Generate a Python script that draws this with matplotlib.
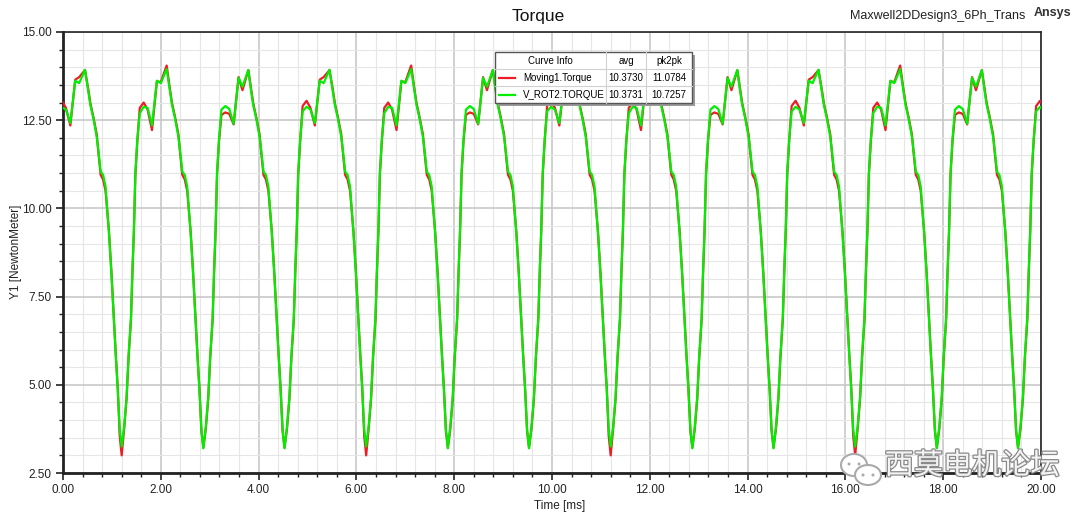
import matplotlib
matplotlib.use("Agg")
import matplotlib.pyplot as plt
from matplotlib.ticker import MultipleLocator, FormatStrFormatter
from matplotlib.patches import Rectangle, Ellipse
import matplotlib.patheffects as pe

plt.rcParams['font.family'] = ['Liberation Sans', 'DejaVu Sans']

# ---------------- data ----------------
time_ms = [
    0.00, 0.06, 0.15, 0.25, 0.33, 0.45,
    0.52, 0.56, 0.62, 0.69, 0.73, 0.77, 0.82, 0.87, 0.94, 0.99, 1.04, 1.08, 1.12, 1.16,
    1.20, 1.25, 1.30, 1.34, 1.39, 1.42, 1.45, 1.48, 1.52, 1.57, 1.65, 1.73, 1.82, 1.92, 2.00, 2.12,
    2.19, 2.23, 2.29, 2.36, 2.40, 2.44, 2.49, 2.54, 2.61, 2.66, 2.71, 2.75, 2.79, 2.83,
    2.87, 2.92, 2.97, 3.01, 3.06, 3.09, 3.12, 3.15, 3.19, 3.24, 3.32, 3.40, 3.49, 3.59, 3.67, 3.79,
    3.85, 3.89, 3.95, 4.02, 4.06, 4.10, 4.15, 4.20, 4.27, 4.32, 4.37, 4.41, 4.45, 4.49,
    4.53, 4.58, 4.63, 4.67, 4.72, 4.75, 4.78, 4.81, 4.85, 4.90, 4.98, 5.06, 5.15, 5.25, 5.33, 5.45,
    5.52, 5.56, 5.62, 5.69, 5.73, 5.77, 5.82, 5.87, 5.94, 5.99, 6.04, 6.08, 6.12, 6.16,
    6.20, 6.25, 6.30, 6.34, 6.39, 6.42, 6.45, 6.48, 6.52, 6.57, 6.65, 6.73, 6.82, 6.92, 7.00, 7.12,
    7.19, 7.23, 7.29, 7.36, 7.40, 7.44, 7.49, 7.54, 7.61, 7.66, 7.71, 7.75, 7.79, 7.83,
    7.87, 7.92, 7.97, 8.01, 8.06, 8.09, 8.12, 8.15, 8.19, 8.24, 8.32, 8.40, 8.49, 8.59, 8.67, 8.79,
    8.85, 8.89, 8.95, 9.02, 9.06, 9.10, 9.15, 9.20, 9.27, 9.32, 9.37, 9.41, 9.45, 9.49,
    9.53, 9.58, 9.63, 9.67, 9.72, 9.75, 9.78, 9.81, 9.85, 9.90, 9.98, 10.06, 10.15, 10.25, 10.33, 10.45,
    10.52, 10.56, 10.62, 10.69, 10.73, 10.77, 10.82, 10.87, 10.94, 10.99, 11.04, 11.08, 11.12, 11.16,
    11.20, 11.25, 11.30, 11.34, 11.39, 11.42, 11.45, 11.48, 11.52, 11.57, 11.65, 11.73, 11.82, 11.92, 12.00, 12.12,
    12.19, 12.23, 12.29, 12.36, 12.40, 12.44, 12.49, 12.54, 12.61, 12.66, 12.71, 12.75, 12.79, 12.83,
    12.87, 12.92, 12.97, 13.01, 13.06, 13.09, 13.12, 13.15, 13.19, 13.24, 13.32, 13.40, 13.49, 13.59, 13.67, 13.79,
    13.85, 13.89, 13.95, 14.02, 14.06, 14.10, 14.15, 14.20, 14.27, 14.32, 14.37, 14.41, 14.45, 14.49,
    14.53, 14.58, 14.63, 14.67, 14.72, 14.75, 14.78, 14.81, 14.85, 14.90, 14.98, 15.06, 15.15, 15.25, 15.33, 15.45,
    15.52, 15.56, 15.62, 15.69, 15.73, 15.77, 15.82, 15.87, 15.94, 15.99, 16.04, 16.08, 16.12, 16.16,
    16.20, 16.25, 16.30, 16.34, 16.39, 16.42, 16.45, 16.48, 16.52, 16.57, 16.65, 16.73, 16.82, 16.92, 17.00, 17.12,
    17.19, 17.23, 17.29, 17.36, 17.40, 17.44, 17.49, 17.54, 17.61, 17.66, 17.71, 17.75, 17.79, 17.83,
    17.87, 17.92, 17.97, 18.01, 18.06, 18.09, 18.12, 18.15, 18.19, 18.24, 18.32, 18.40, 18.49, 18.59, 18.67, 18.79,
    18.85, 18.89, 18.95, 19.02, 19.06, 19.10, 19.15, 19.20, 19.27, 19.32, 19.37, 19.41, 19.45, 19.49,
    19.53, 19.58, 19.63, 19.67, 19.72, 19.75, 19.78, 19.81, 19.85, 19.90, 19.98, 20.00,
]

moving1_torque = [
    13.00, 12.85, 12.35, 13.65, 13.72, 13.92,
    13.35, 12.98, 12.60, 12.10, 11.50, 10.95, 10.82, 10.50, 9.35, 8.20, 6.90, 5.85, 4.90, 3.55,
    3.00, 3.75, 4.60, 5.75, 6.85, 8.20, 9.35, 10.95, 11.90, 12.85, 13.00, 12.80, 12.22, 13.60, 13.58, 14.05,
    13.35, 12.98, 12.60, 12.10, 11.50, 10.95, 10.82, 10.50, 9.35, 8.20, 6.90, 5.85, 4.90, 3.70,
    3.22, 3.75, 4.60, 5.75, 6.85, 8.20, 9.35, 10.95, 11.90, 12.65, 12.72, 12.68, 12.38, 13.72, 13.35, 13.92,
    13.35, 12.98, 12.60, 12.10, 11.50, 10.95, 10.82, 10.50, 9.35, 8.20, 6.90, 5.85, 4.90, 3.70,
    3.22, 3.75, 4.60, 5.75, 6.85, 8.20, 9.35, 10.95, 11.90, 12.90, 13.05, 12.85, 12.35, 13.65, 13.72, 13.92,
    13.35, 12.98, 12.60, 12.10, 11.50, 10.95, 10.82, 10.50, 9.35, 8.20, 6.90, 5.85, 4.90, 3.55,
    3.00, 3.75, 4.60, 5.75, 6.85, 8.20, 9.35, 10.95, 11.90, 12.85, 13.00, 12.80, 12.22, 13.60, 13.58, 14.05,
    13.35, 12.98, 12.60, 12.10, 11.50, 10.95, 10.82, 10.50, 9.35, 8.20, 6.90, 5.85, 4.90, 3.70,
    3.22, 3.75, 4.60, 5.75, 6.85, 8.20, 9.35, 10.95, 11.90, 12.65, 12.72, 12.68, 12.38, 13.72, 13.35, 13.92,
    13.35, 12.98, 12.60, 12.10, 11.50, 10.95, 10.82, 10.50, 9.35, 8.20, 6.90, 5.85, 4.90, 3.70,
    3.22, 3.75, 4.60, 5.75, 6.85, 8.20, 9.35, 10.95, 11.90, 12.90, 13.05, 12.85, 12.35, 13.65, 13.72, 13.92,
    13.35, 12.98, 12.60, 12.10, 11.50, 10.95, 10.82, 10.50, 9.35, 8.20, 6.90, 5.85, 4.90, 3.55,
    3.00, 3.75, 4.60, 5.75, 6.85, 8.20, 9.35, 10.95, 11.90, 12.85, 13.00, 12.80, 12.22, 13.60, 13.58, 14.05,
    13.35, 12.98, 12.60, 12.10, 11.50, 10.95, 10.82, 10.50, 9.35, 8.20, 6.90, 5.85, 4.90, 3.70,
    3.22, 3.75, 4.60, 5.75, 6.85, 8.20, 9.35, 10.95, 11.90, 12.65, 12.72, 12.68, 12.38, 13.72, 13.35, 13.92,
    13.35, 12.98, 12.60, 12.10, 11.50, 10.95, 10.82, 10.50, 9.35, 8.20, 6.90, 5.85, 4.90, 3.70,
    3.22, 3.75, 4.60, 5.75, 6.85, 8.20, 9.35, 10.95, 11.90, 12.90, 13.05, 12.85, 12.35, 13.65, 13.72, 13.92,
    13.35, 12.98, 12.60, 12.10, 11.50, 10.95, 10.82, 10.50, 9.35, 8.20, 6.90, 5.85, 4.90, 3.55,
    3.00, 3.75, 4.60, 5.75, 6.85, 8.20, 9.35, 10.95, 11.90, 12.85, 13.00, 12.80, 12.22, 13.60, 13.58, 14.05,
    13.35, 12.98, 12.60, 12.10, 11.50, 10.95, 10.82, 10.50, 9.35, 8.20, 6.90, 5.85, 4.90, 3.70,
    3.22, 3.75, 4.60, 5.75, 6.85, 8.20, 9.35, 10.95, 11.90, 12.65, 12.72, 12.68, 12.38, 13.72, 13.35, 13.92,
    13.35, 12.98, 12.60, 12.10, 11.50, 10.95, 10.82, 10.50, 9.35, 8.20, 6.90, 5.85, 4.90, 3.70,
    3.22, 3.75, 4.60, 5.75, 6.85, 8.20, 9.35, 10.95, 11.90, 12.90, 13.05, 13.02,
]

v_rot2_torque = [
    12.85, 12.80, 12.42, 13.62, 13.55, 13.93,
    13.30, 12.93, 12.56, 12.03, 11.56, 11.04, 10.95, 10.62, 9.30, 8.16, 6.84, 5.80, 4.86, 3.73,
    3.25, 3.80, 4.65, 5.80, 6.90, 8.25, 9.40, 11.00, 11.95, 12.70, 12.88, 12.85, 12.35, 13.62, 13.55, 13.95,
    13.30, 12.93, 12.56, 12.03, 11.56, 11.04, 10.95, 10.62, 9.30, 8.16, 6.84, 5.80, 4.86, 3.73,
    3.20, 3.80, 4.65, 5.80, 6.90, 8.25, 9.40, 11.00, 11.95, 12.80, 12.90, 12.82, 12.40, 13.70, 13.45, 13.92,
    13.30, 12.93, 12.56, 12.03, 11.56, 11.04, 10.95, 10.62, 9.30, 8.16, 6.84, 5.80, 4.86, 3.73,
    3.20, 3.80, 4.65, 5.80, 6.90, 8.25, 9.40, 11.00, 11.95, 12.75, 12.88, 12.80, 12.42, 13.62, 13.55, 13.93,
    13.30, 12.93, 12.56, 12.03, 11.56, 11.04, 10.95, 10.62, 9.30, 8.16, 6.84, 5.80, 4.86, 3.73,
    3.25, 3.80, 4.65, 5.80, 6.90, 8.25, 9.40, 11.00, 11.95, 12.70, 12.88, 12.85, 12.35, 13.62, 13.55, 13.95,
    13.30, 12.93, 12.56, 12.03, 11.56, 11.04, 10.95, 10.62, 9.30, 8.16, 6.84, 5.80, 4.86, 3.73,
    3.20, 3.80, 4.65, 5.80, 6.90, 8.25, 9.40, 11.00, 11.95, 12.80, 12.90, 12.82, 12.40, 13.70, 13.45, 13.92,
    13.30, 12.93, 12.56, 12.03, 11.56, 11.04, 10.95, 10.62, 9.30, 8.16, 6.84, 5.80, 4.86, 3.73,
    3.20, 3.80, 4.65, 5.80, 6.90, 8.25, 9.40, 11.00, 11.95, 12.75, 12.88, 12.80, 12.42, 13.62, 13.55, 13.93,
    13.30, 12.93, 12.56, 12.03, 11.56, 11.04, 10.95, 10.62, 9.30, 8.16, 6.84, 5.80, 4.86, 3.73,
    3.25, 3.80, 4.65, 5.80, 6.90, 8.25, 9.40, 11.00, 11.95, 12.70, 12.88, 12.85, 12.35, 13.62, 13.55, 13.95,
    13.30, 12.93, 12.56, 12.03, 11.56, 11.04, 10.95, 10.62, 9.30, 8.16, 6.84, 5.80, 4.86, 3.73,
    3.20, 3.80, 4.65, 5.80, 6.90, 8.25, 9.40, 11.00, 11.95, 12.80, 12.90, 12.82, 12.40, 13.70, 13.45, 13.92,
    13.30, 12.93, 12.56, 12.03, 11.56, 11.04, 10.95, 10.62, 9.30, 8.16, 6.84, 5.80, 4.86, 3.73,
    3.20, 3.80, 4.65, 5.80, 6.90, 8.25, 9.40, 11.00, 11.95, 12.75, 12.88, 12.80, 12.42, 13.62, 13.55, 13.93,
    13.30, 12.93, 12.56, 12.03, 11.56, 11.04, 10.95, 10.62, 9.30, 8.16, 6.84, 5.80, 4.86, 3.73,
    3.25, 3.80, 4.65, 5.80, 6.90, 8.25, 9.40, 11.00, 11.95, 12.70, 12.88, 12.85, 12.35, 13.62, 13.55, 13.95,
    13.30, 12.93, 12.56, 12.03, 11.56, 11.04, 10.95, 10.62, 9.30, 8.16, 6.84, 5.80, 4.86, 3.73,
    3.20, 3.80, 4.65, 5.80, 6.90, 8.25, 9.40, 11.00, 11.95, 12.80, 12.90, 12.82, 12.40, 13.70, 13.45, 13.92,
    13.30, 12.93, 12.56, 12.03, 11.56, 11.04, 10.95, 10.62, 9.30, 8.16, 6.84, 5.80, 4.86, 3.73,
    3.20, 3.80, 4.65, 5.80, 6.90, 8.25, 9.40, 11.00, 11.95, 12.75, 12.88, 12.85,
]

curve_names = ["Moving1.Torque", "V_ROT2.TORQUE"]
curve_avg = ["10.3730", "10.3731"]
curve_pk2pk = ["11.0784", "10.7257"]
curve_colors = ["#ee1c24", "#00ee00"]

x_ticks = [0, 2, 4, 6, 8, 10, 12, 14, 16, 18, 20]
y_ticks = [2.5, 5.0, 7.5, 10.0, 12.5, 15.0]

# ---------------- figure ----------------
W, H = 1080, 516
fig = plt.figure(figsize=(W / 100, H / 100), dpi=100)
fig.patch.set_facecolor("white")

def fx(px):
    return px / W

def fy(py):
    return 1 - py / H

ax_l, ax_r, ax_t, ax_b = 63, 1041, 32, 473
ax = fig.add_axes([fx(ax_l), fy(ax_b), fx(ax_r - ax_l), (ax_b - ax_t) / H])

ax.plot(time_ms, moving1_torque, color=curve_colors[0], lw=1.6, zorder=3)
ax.plot(time_ms, v_rot2_torque, color=curve_colors[1], lw=1.6, zorder=4)

ax.set_xlim(0, 20)
ax.set_ylim(2.5, 15.0)
ax.set_xticks(x_ticks)
ax.set_yticks(y_ticks)
ax.xaxis.set_minor_locator(MultipleLocator(0.4))
ax.yaxis.set_minor_locator(MultipleLocator(0.5))
ax.xaxis.set_major_formatter(FormatStrFormatter("%.2f"))
ax.yaxis.set_major_formatter(FormatStrFormatter("%.2f"))
ax.grid(which="major", color="#c8c8c8", lw=1.2, zorder=0)
ax.grid(which="minor", color="#e6e6e6", lw=0.8, zorder=0)
ax.set_axisbelow(True)
ax.tick_params(which="major", direction="out", length=5, width=1.2, labelsize=8.5,
               colors="#222222", pad=3)
ax.tick_params(which="minor", direction="out", length=3, width=1.0, colors="#222222")
for s in ["left", "bottom"]:
    ax.spines[s].set_linewidth(2.0)
    ax.spines[s].set_color("#222222")
for s in ["top", "right"]:
    ax.spines[s].set_linewidth(1.2)
    ax.spines[s].set_color("#222222")

# texts
fig.text(fx(538), fy(16), "Torque", ha="center", va="center", fontsize=12.5, color="#111111")
fig.text(fx(938), fy(16), "Maxwell2DDesign3_6Ph_Trans", ha="center", va="center",
         fontsize=9, color="#222222")
fig.text(fx(1052), fy(13), "Ansys", ha="center", va="center", fontsize=9,
         fontweight="bold", color="#333333")
fig.text(fx(16), fy(252), "Y1 [NewtonMeter]", ha="center", va="center", rotation=90,
         fontsize=8.5, color="#222222")
fig.text(fx(560), fy(506), "Time [ms]", ha="center", va="center", fontsize=8.5,
         color="#222222")

# ---------------- legend table ----------------
lx0, lx1, ly0, ly1 = 495, 692, 52, 103
col1, col2 = 606, 646
rows = [52, 69, 86, 103]
lax = fig.add_axes([fx(lx0 - 2), fy(ly1 + 4), fx(lx1 - lx0 + 6), (ly1 - ly0 + 6) / H])
lax.set_xlim(lx0 - 2, lx1 + 4)
lax.set_ylim(ly1 + 4, ly0 - 2)
lax.axis("off")
lax.add_patch(Rectangle((lx0 + 3, ly0 + 3), lx1 - lx0, ly1 - ly0, facecolor="#9a9a9a",
                        edgecolor="none", zorder=1))
lax.add_patch(Rectangle((lx0, ly0), lx1 - lx0, ly1 - ly0, facecolor="white",
                        edgecolor="#555555", lw=1.0, zorder=2))
for ry in rows[1:3]:
    lax.plot([lx0, lx1], [ry, ry], color="#d0d0d0", lw=0.8, zorder=3)
for cx in [col1, col2]:
    lax.plot([cx, cx], [ly0, ly1], color="#d0d0d0", lw=0.8, zorder=3)
hy = (rows[0] + rows[1]) / 2
lax.text((lx0 + col1) / 2, hy, "Curve Info", ha="center", va="center", fontsize=7, zorder=4)
lax.text((col1 + col2) / 2, hy, "avg", ha="center", va="center", fontsize=7, zorder=4)
lax.text((col2 + lx1) / 2, hy, "pk2pk", ha="center", va="center", fontsize=7, zorder=4)
for i in range(2):
    ry = (rows[i + 1] + rows[i + 2]) / 2
    lax.plot([lx0 + 4, lx0 + 20], [ry, ry], color=curve_colors[i], lw=1.6, zorder=4)
    lax.text(lx0 + 28, ry, curve_names[i], ha="left", va="center", fontsize=7, zorder=4)
    lax.text((col1 + col2) / 2, ry, curve_avg[i], ha="center", va="center", fontsize=7, zorder=4)
    lax.text((col2 + lx1) / 2, ry, curve_pk2pk[i], ha="center", va="center", fontsize=7, zorder=4)

# ---------------- watermark ----------------
wax = fig.add_axes([fx(830), fy(495), fx(60), 50 / H])
wax.set_xlim(0, 60)
wax.set_ylim(50, 0)
wax.axis("off")
for (cx, cy, w, h) in [(24, 20, 26, 22), (38, 30, 26, 20)]:
    wax.add_patch(Ellipse((cx, cy), w, h, facecolor="white", edgecolor="#aaaaaa", lw=1.5))
for (cx, cy) in [(19, 19), (29, 19), (33, 30), (43, 30)]:
    wax.add_patch(Ellipse((cx, cy), 3, 3, facecolor="#aaaaaa", edgecolor="none"))
fig.text(fx(972), fy(466), "西莫电机论坛", ha="center", va="center", fontsize=21,
         family=["Noto Sans CJK SC", "DejaVu Sans"], color="#f4f4f4",
         path_effects=[pe.withStroke(linewidth=1.8, foreground="#8a8a8a")])

fig.savefig("out.png", dpi=100, facecolor="white")
